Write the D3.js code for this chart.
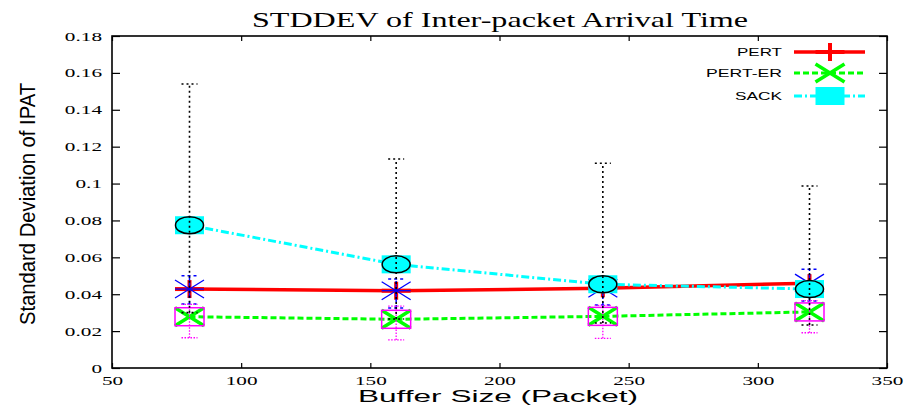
<!DOCTYPE html>
<html>
<head>
<meta charset="utf-8">
<script src="https://cdn.jsdelivr.net/npm/d3@7"></script>
<style>
html,body{margin:0;padding:0;background:#fff;}
svg{display:block;}
</style>
</head>
<body>
<svg id="chart" width="912" height="414"></svg>
<script>
// ---------- data ----------
const buffers = [80, 160, 240, 320];
const pertMean = [0.0428, 0.0419, 0.0432, 0.0460];
const pertLow = [0.0347, 0.0325, 0.0342, 0.0363];
const pertHigh = [0.0500, 0.0483, 0.0490, 0.0535];
const pertErMean = [0.0278, 0.0264, 0.0280, 0.0304];
const pertErLow = [0.0164, 0.0152, 0.0161, 0.0191];
const pertErHigh = [0.0345, 0.0335, 0.0340, 0.0365];
const sackMean = [0.0774, 0.0562, 0.0454, 0.0428];
const sackLow = [0.0300, 0.0266, 0.0244, 0.0233];
const sackHigh = [0.1540, 0.1133, 0.1110, 0.0987];
const xTickValues = [50, 100, 150, 200, 250, 300, 350];
const xTickLabels = ["50", "100", "150", "200", "250", "300", "350"];
const yTickValues = [0, 0.02, 0.04, 0.06, 0.08, 0.1, 0.12, 0.14, 0.16, 0.18];
const yTickLabels = ["0", "0.02", "0.04", "0.06", "0.08", "0.1", "0.12", "0.14", "0.16", "0.18"];
const seriesNames = ["PERT", "PERT-ER", "SACK"];

// ---------- setup ----------
const svg = d3.select("#chart");
const L = 112, R = 887, T = 36, B = 368;
const x = d3.scaleLinear().domain([50, 350]).range([L, R]);
const y = d3.scaleLinear().domain([0, 0.18]).range([B, T]);
const SX = 1.66; // horizontal stretch of the glyphs
const serif = "'Liberation Serif','Times New Roman',serif";
const sans = "'Liberation Sans',Arial,Helvetica,sans-serif";

// axes
const gB = svg.append("g").attr("transform", `translate(0,${B})`)
  .call(d3.axisBottom(x).tickValues(xTickValues).tickFormat((d, i) => xTickLabels[i])
    .tickSizeInner(-5).tickSizeOuter(0).tickPadding(8));
const gT = svg.append("g").attr("transform", `translate(0,${T})`)
  .call(d3.axisTop(x).tickValues(xTickValues).tickFormat("").tickSizeInner(-5).tickSizeOuter(0));
const gL = svg.append("g").attr("transform", `translate(${L},0)`)
  .call(d3.axisLeft(y).tickValues(yTickValues).tickFormat((d, i) => yTickLabels[i])
    .tickSizeInner(-8).tickSizeOuter(0).tickPadding(10));
const gR = svg.append("g").attr("transform", `translate(${R},0)`)
  .call(d3.axisRight(y).tickValues(yTickValues).tickFormat("").tickSizeInner(-8).tickSizeOuter(0));
[gB, gT, gL, gR].forEach(g => {
  g.select(".domain").remove();
  g.selectAll(".tick line").attr("stroke", "#000").attr("stroke-width", 1.2);
  g.selectAll("text").attr("font-family", serif).attr("font-size", 12.8).attr("fill", "#000");
});
gB.selectAll(".tick text").attr("transform", `scale(${SX},1)`);
gL.selectAll(".tick text").attr("x", -10 / SX).attr("transform", `scale(${SX},1)`);

// frame
svg.append("rect").attr("x", L).attr("y", T).attr("width", R - L).attr("height", B - T)
  .attr("fill", "none").attr("stroke", "#000").attr("stroke-width", 1.6);

// title & axis labels
svg.append("text").attr("x", 252).attr("y", 26.5)
  .attr("font-family", serif).attr("font-size", 21)
  .attr("textLength", 496).attr("lengthAdjust", "spacingAndGlyphs")
  .text("STDDEV of Inter-packet Arrival Time");
svg.append("text").attr("x", 358).attr("y", 402)
  .attr("font-family", sans).attr("font-size", 16)
  .attr("textLength", 280).attr("lengthAdjust", "spacingAndGlyphs")
  .text("Buffer Size (Packet)");
svg.append("text").attr("transform", "translate(35,204) rotate(-90)")
  .attr("text-anchor", "middle")
  .attr("font-family", sans).attr("font-size", 22)
  .attr("textLength", 242).attr("lengthAdjust", "spacingAndGlyphs")
  .text("Standard Deviation of IPAT");

// ---------- marker helpers ----------
const HW = 14.5, HH = 9;
function plus(g, cx, cy, color, w) {
  g.append("line").attr("x1", cx - HW).attr("x2", cx + HW).attr("y1", cy).attr("y2", cy)
    .attr("stroke", color).attr("stroke-width", w);
  g.append("line").attr("x1", cx).attr("x2", cx).attr("y1", cy - HH).attr("y2", cy + HH)
    .attr("stroke", color).attr("stroke-width", w);
}
function cross(g, cx, cy, color, w) {
  g.append("line").attr("x1", cx - HW).attr("x2", cx + HW).attr("y1", cy - HH).attr("y2", cy + HH)
    .attr("stroke", color).attr("stroke-width", w);
  g.append("line").attr("x1", cx - HW).attr("x2", cx + HW).attr("y1", cy + HH).attr("y2", cy - HH)
    .attr("stroke", color).attr("stroke-width", w);
}
function box(g, cx, cy, fill, stroke, w) {
  g.append("rect").attr("x", cx - HW).attr("y", cy - HH).attr("width", 2 * HW).attr("height", 2 * HH)
    .attr("fill", fill).attr("stroke", stroke).attr("stroke-width", w);
}
function errBar(g, cx, lo, hi, color, dash, w) {
  g.append("line").attr("x1", cx).attr("x2", cx).attr("y1", y(lo)).attr("y2", y(hi))
    .attr("stroke", color).attr("stroke-width", w).attr("stroke-dasharray", dash);
  [lo, hi].forEach(v => {
    g.append("line").attr("x1", cx - 8).attr("x2", cx + 8).attr("y1", y(v)).attr("y2", y(v))
      .attr("stroke", color).attr("stroke-width", w).attr("stroke-dasharray", dash);
  });
}
const line = d3.line().x(d => x(d[0])).y(d => y(d[1]));
const plot = svg.append("g");

// PERT
plot.append("path").datum(buffers.map((b, i) => [b, pertMean[i]])).attr("d", line)
  .attr("fill", "none").attr("stroke", "#ff0000").attr("stroke-width", 3.5);
buffers.forEach((b, i) => plus(plot, x(b), y(pertMean[i]), "#ff0000", 4));
buffers.forEach((b, i) => {
  errBar(plot, x(b), pertLow[i], pertHigh[i], "#0000ff", "3,3", 1.5);
  plus(plot, x(b), y(pertMean[i]), "#0000ff", 1.3);
  cross(plot, x(b), y(pertMean[i]), "#0000ff", 1.3);
});

// PERT-ER
plot.append("path").datum(buffers.map((b, i) => [b, pertErMean[i]])).attr("d", line)
  .attr("fill", "none").attr("stroke", "#00ff00").attr("stroke-width", 3)
  .attr("stroke-dasharray", "6,3");
buffers.forEach((b, i) => cross(plot, x(b), y(pertErMean[i]), "#00ff00", 3.5));
buffers.forEach((b, i) => {
  errBar(plot, x(b), pertErLow[i], pertErHigh[i], "#ff00ff", "1.5,1.5", 1.3);
  box(plot, x(b), y(pertErMean[i]), "none", "#ff00ff", 1.5);
});

// SACK
plot.append("path").datum(buffers.map((b, i) => [b, sackMean[i]])).attr("d", line)
  .attr("fill", "none").attr("stroke", "#00ffff").attr("stroke-width", 3)
  .attr("stroke-dasharray", "8,3,2,3");
buffers.forEach((b, i) => box(plot, x(b), y(sackMean[i]), "#00ffff", "none", 0));
buffers.forEach((b, i) => {
  errBar(plot, x(b), sackLow[i], sackHigh[i], "#000", "2,3", 1.6);
  plot.append("ellipse").attr("cx", x(b)).attr("cy", y(sackMean[i])).attr("rx", 14).attr("ry", 8.5)
    .attr("fill", "none").attr("stroke", "#000").attr("stroke-width", 1.5);
});

// ---------- legend ----------
const legRows = [52, 73, 96];
const legWidths = [45, 76, 47];
const leg = svg.append("g");
seriesNames.forEach((name, i) => {
  leg.append("text").attr("x", 782).attr("y", legRows[i] + 4).attr("text-anchor", "end")
    .attr("font-family", sans).attr("font-size", 11.5)
    .attr("textLength", legWidths[i]).attr("lengthAdjust", "spacingAndGlyphs")
    .text(name);
});
const lg = leg.append("g");
lg.append("line").attr("x1", 794).attr("x2", 865).attr("y1", legRows[0]).attr("y2", legRows[0])
  .attr("stroke", "#ff0000").attr("stroke-width", 3.5);
plus(lg, 830, legRows[0], "#ff0000", 4);
lg.append("line").attr("x1", 794).attr("x2", 865).attr("y1", legRows[1]).attr("y2", legRows[1])
  .attr("stroke", "#00ff00").attr("stroke-width", 3).attr("stroke-dasharray", "6,3");
cross(lg, 830, legRows[1], "#00ff00", 3.5);
lg.append("line").attr("x1", 794).attr("x2", 865).attr("y1", legRows[2]).attr("y2", legRows[2])
  .attr("stroke", "#00ffff").attr("stroke-width", 3).attr("stroke-dasharray", "8,3,2,3");
box(lg, 830, legRows[2], "#00ffff", "none", 0);
</script>
</body>
</html>
